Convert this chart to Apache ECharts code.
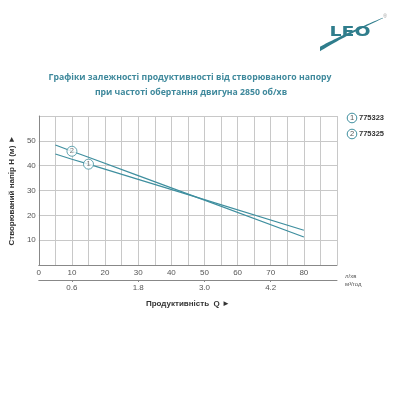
<!DOCTYPE html>
<html><head><meta charset="utf-8">
<script src="https://cdn.jsdelivr.net/npm/echarts@6/dist/echarts.min.js"></script>
<style>html,body{margin:0;padding:0;background:#fff}#c{width:400px;height:400px}</style>
</head><body><div id="c"></div>
<script>
// Data
const flowLpm = [5, 10, 15, 30, 50, 80];
const head775323 = [44.7, 42.6, 40.6, 34.5, 26.3, 14.0];
const head775325 = [48.3, 45.8, 43.4, 36.0, 26.1, 11.3];
const seriesNames = ['775323', '775325'];
const flowM3Pos = [10, 30, 50, 70];
const flowM3Labels = ['0.6', '1.8', '3.0', '4.2'];
const xTickLabels = [0, 10, 20, 30, 40, 50, 60, 70, 80];
const yTickLabels = [10, 20, 30, 40, 50];
const curveLabelIndex = [2, 1]; // series 1 labelled at x=15, series 2 at x=10

const teal = '#3f8f9f';
const titleColor = '#3f899c';
const logoColor = '#2f7d8c';
const pair = (xs, ys) => xs.map((x, i) => [x, ys[i]]);
const heads = [head775323, head775325];

// tapered swoosh for the logo (decoration)
function swoosh() {
  const p0 = [320, 49], c = [342, 36], p2 = [383, 18];
  const top = [], bot = [];
  const n = 24;
  for (let i = 0; i <= n; i++) {
    const t = i / n, u = 1 - t;
    const x = u * u * p0[0] + 2 * u * t * c[0] + t * t * p2[0];
    const y = u * u * p0[1] + 2 * u * t * c[1] + t * t * p2[1];
    const w = 2.0 * (1 - t) + 0.3;
    top.push([x, y - w]);
    bot.push([x, y + w]);
  }
  return top.concat(bot.reverse());
}

const chart = echarts.init(document.getElementById('c'), null, {renderer: 'canvas'});
const lineSeries = heads.map((h, k) => ({
  type: 'line', name: seriesNames[k], data: pair(flowLpm, h), xAxisIndex: 0,
  showSymbol: false, smooth: false, lineStyle: {color: teal, width: 1.2}, z: 3, silent: true
}));
const markerSeries = heads.map((h, k) => ({
  type: 'scatter', xAxisIndex: 0, data: [[flowLpm[curveLabelIndex[k]], h[curveLabelIndex[k]]]],
  symbol: 'circle', symbolSize: 10, z: 5, silent: true,
  itemStyle: {color: '#fff', borderColor: teal, borderWidth: 1},
  label: {show: true, position: 'inside', formatter: String(k + 1), fontSize: 7.5, color: '#555', fontFamily: 'Liberation Sans'}
}));

const legendGraphics = [];
seriesNames.forEach((n, k) => {
  const y = 118 + k * 16;
  legendGraphics.push({type: 'circle', shape: {cx: 352, cy: y, r: 4.8}, style: {fill: '#fff', stroke: teal, lineWidth: 1}});
  legendGraphics.push({type: 'text', x: 352, y: y, style: {text: String(k + 1), fontSize: 7.5, fill: '#555', align: 'center', verticalAlign: 'middle', fontFamily: 'Liberation Sans'}});
  legendGraphics.push({type: 'text', x: 359, y: y, style: {text: n, fontSize: 7.5, fontWeight: 'bold', fill: '#333', align: 'left', verticalAlign: 'middle', fontFamily: 'Liberation Sans'}});
});

chart.setOption({
  animation: false,
  backgroundColor: '#fff',
  grid: {left: 37, right: 63, top: 116, bottom: 135},
  xAxis: [{
    type: 'value', min: 0, max: 90, interval: 5,
    axisLine: {show: true, lineStyle: {color: '#888', width: 1}},
    axisTick: {show: false},
    splitLine: {show: true, lineStyle: {color: '#c8c8c8', width: 1}},
    axisLabel: {fontSize: 8, color: '#555', margin: 4, fontFamily: 'Liberation Sans',
      formatter: v => xTickLabels.includes(v) ? String(v) : ''}
  }, {
    type: 'value', min: 0, max: 90, interval: 10, position: 'bottom', offset: 15,
    axisLine: {show: true, onZero: false, lineStyle: {color: '#888', width: 1}},
    axisTick: {show: true, customValues: flowM3Pos, length: 2, lineStyle: {color: '#888'}},
    splitLine: {show: false},
    axisLabel: {customValues: flowM3Pos, fontSize: 8, color: '#555', margin: 4, fontFamily: 'Liberation Sans',
      formatter: v => flowM3Labels[flowM3Pos.indexOf(v)] || ''},
    name: 'Продуктивність  Q ►', nameLocation: 'middle', nameGap: 20,
    nameTextStyle: {fontSize: 8, fontWeight: 'bold', color: '#333', fontFamily: 'Liberation Sans'}
  }],
  yAxis: {
    type: 'value', min: 0, max: 60, interval: 10,
    axisLine: {show: true, lineStyle: {color: '#888', width: 1}},
    axisTick: {show: false},
    splitLine: {show: true, lineStyle: {color: '#c8c8c8', width: 1}},
    axisLabel: {fontSize: 8, color: '#555', margin: 3, fontFamily: 'Liberation Sans',
      formatter: v => yTickLabels.includes(v) ? String(v) : ''},
    name: 'Створюваний напір H (м) ►', nameLocation: 'middle', nameGap: 17,
    nameTextStyle: {fontSize: 8, fontWeight: 'bold', color: '#333', fontFamily: 'Liberation Sans'}
  },
  series: [...lineSeries, ...markerSeries],
  graphic: [
    {type: 'text', x: 190, y: 78, style: {text: 'Графіки залежності продуктивності від створюваного напору', fontSize: 8.7, fontWeight: 'bold', fill: titleColor, align: 'center', verticalAlign: 'middle', fontFamily: 'Open Sans'}},
    {type: 'text', x: 191, y: 93, style: {text: 'при частоті обертання двигуна 2850 об/хв', fontSize: 8.7, fontWeight: 'bold', fill: titleColor, align: 'center', verticalAlign: 'middle', fontFamily: 'Open Sans'}},
    {type: 'text', x: 345, y: 276, style: {text: 'л/хв', fontSize: 6, fill: '#555', align: 'left', verticalAlign: 'middle', fontFamily: 'Liberation Sans'}},
    {type: 'text', x: 345, y: 284, style: {text: 'м³/год', fontSize: 6, fill: '#555', align: 'left', verticalAlign: 'middle', fontFamily: 'Liberation Sans'}},
    // LEO logo
    {type: 'polygon', shape: {points: swoosh()}, style: {fill: logoColor}},
    {type: 'text', x: 350, y: 32, scaleX: 1.35, style: {text: 'LEO', fontSize: 14, fontWeight: 'bold', fill: logoColor, align: 'center', verticalAlign: 'middle', fontFamily: 'DejaVu Sans'}},
    {type: 'text', x: 385, y: 17, style: {text: '®', fontSize: 5, fill: '#999', align: 'center', verticalAlign: 'middle'}},
    ...legendGraphics
  ]
});
</script></body></html>
